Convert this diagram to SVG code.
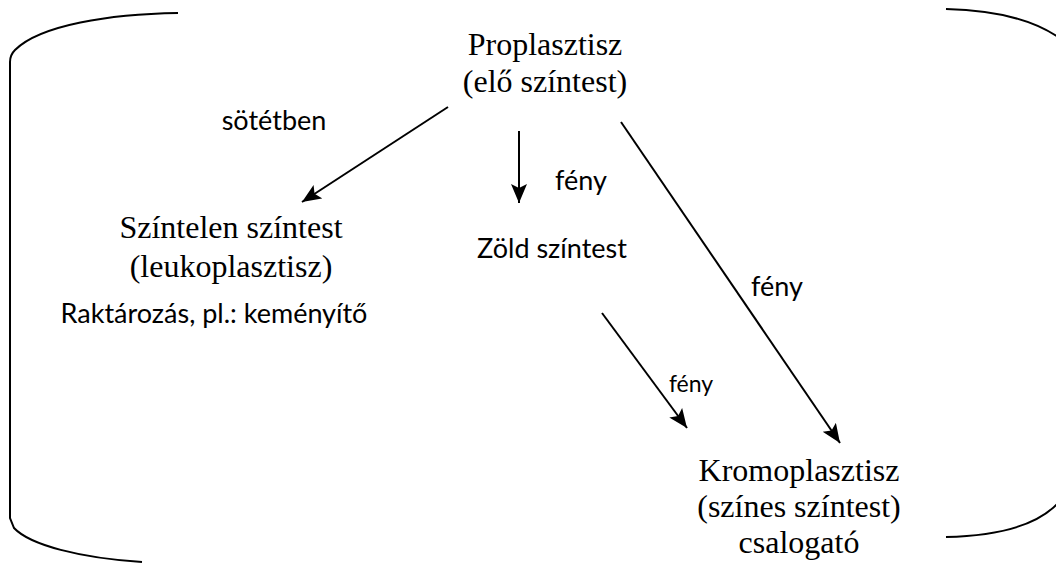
<svg xmlns="http://www.w3.org/2000/svg" width="1056" height="563" viewBox="0 0 1056 563">
<style>
.serif{font-family:"Liberation Serif","Times New Roman",serif;font-size:32px;fill:#000;text-anchor:middle}
.sans{font-family:Lato,"Open Sans",sans-serif;font-size:27px;fill:#000;text-anchor:middle}
.br{fill:none;stroke:#000;stroke-width:2}
.ar{fill:none;stroke:#000;stroke-width:2;marker-end:url(#ah)}
</style>
<defs>
<marker id="ah" markerUnits="userSpaceOnUse" markerWidth="22" markerHeight="18" refX="19" refY="8" orient="auto">
<path d="M0,0 L19,8 L0,16 L4,8 z" fill="#000"/>
</marker>
</defs>
<rect width="1056" height="563" fill="#fff"/>
<g id="brackets">
<path class="br" d="M178,13 C110,14 40,25 15,50 Q10,55 10,62 L10,518 L14,528 C30,545 80,558 142,562"/>
<path class="br" d="M946,9 C990,10 1030,18 1058,37"/>
<path class="br" d="M946,537 C990,536 1035,528 1058,503"/>
</g>
<g id="connectors">
<line class="ar" x1="448" y1="107" x2="302" y2="202"/>
<line class="ar" x1="519" y1="131" x2="519" y2="203"/>
<line class="ar" x1="621" y1="122" x2="840" y2="443"/>
<line class="ar" x1="602" y1="313" x2="687" y2="428"/>
</g>
<g id="proplasztisz">
<text class="serif" x="545" y="55">Proplasztisz</text>
<text class="serif" x="545" y="92">(elő színtest)</text>
</g>
<g id="szintelen">
<text class="serif" x="231" y="238">Színtelen színtest</text>
<text class="serif" x="231" y="277">(leukoplasztisz)</text>
<text class="sans" x="214" y="323">Raktározás, pl.: keményítő</text>
</g>
<g id="zold">
<text class="sans" x="552" y="258">Zöld színtest</text>
</g>
<g id="kromoplasztisz">
<text class="serif" x="799" y="481">Kromoplasztisz</text>
<text class="serif" x="799" y="517">(színes színtest)</text>
<text class="serif" x="799" y="553">csalogató</text>
</g>
<g id="labels">
<text class="sans" x="274" y="130">sötétben</text>
<text class="sans" x="581" y="190">fény</text>
<text class="sans" x="777" y="296">fény</text>
<text class="sans" x="691" y="392" style="font-size:23px">fény</text>
</g>
</svg>
